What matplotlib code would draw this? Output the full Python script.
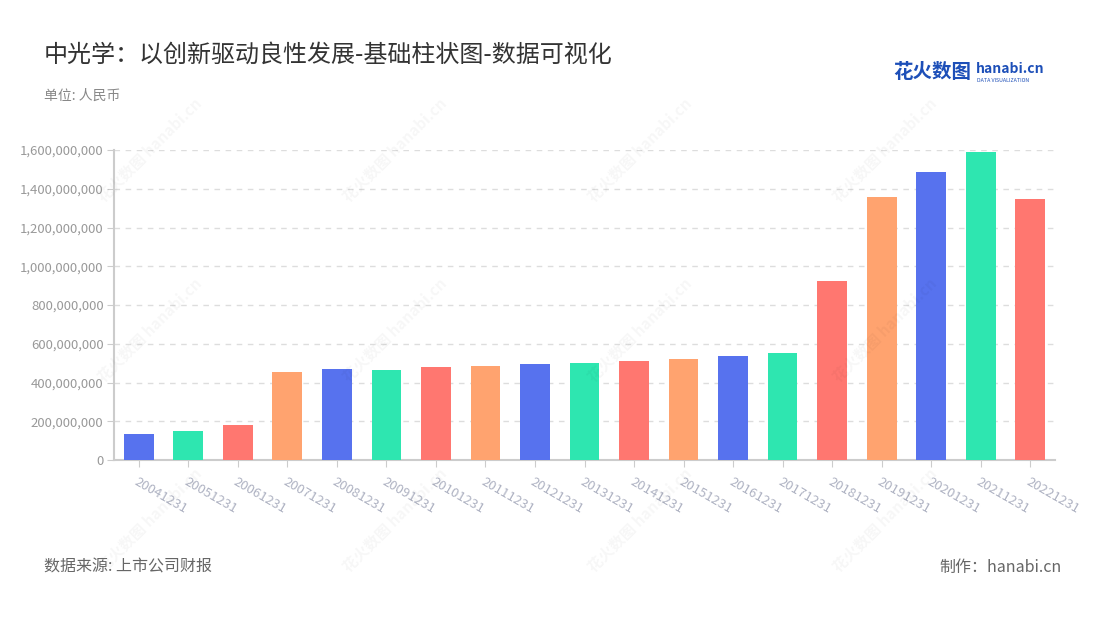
import matplotlib.pyplot as plt
from matplotlib.ticker import FuncFormatter

plt.rcParams['font.family'] = ['Noto Sans CJK SC', 'DejaVu Sans']

# data
dates = ['20041231', '20051231', '20061231', '20071231', '20081231', '20091231',
         '20101231', '20111231', '20121231', '20131231', '20141231', '20151231',
         '20161231', '20171231', '20181231', '20191231', '20201231', '20211231',
         '20221231']
values = [134e6, 151e6, 183e6, 454e6, 471e6, 464e6,
          481e6, 483e6, 494e6, 500e6, 511e6, 523e6,
          537e6, 554e6, 923e6, 1356e6, 1484e6, 1588e6,
          1346e6]
palette = ['#5772EE', '#2EE6B0', '#FF7770', '#FFA36F']

fig = plt.figure(figsize=(11, 6.2), dpi=100)
ax = fig.add_axes([114 / 1100, 1 - 460 / 620, 941 / 1100, 310 / 620])

x = list(range(len(dates)))
colors = [palette[i % 4] for i in x]
ax.bar(x, values, width=0.6, color=colors, zorder=3)

ax.set_xlim(-0.5, len(dates) - 0.5)
ax.set_ylim(0, 1.6e9)
ax.set_yticks([i * 2e8 for i in range(9)])
ax.yaxis.set_major_formatter(FuncFormatter(lambda v, p: '{:,.0f}'.format(v)))
ax.grid(axis='y', color='#dddddd', linestyle=(0, (4, 4)), linewidth=1, zorder=0)
ax.set_xticks(x)
ax.set_xticklabels(dates, rotation=-30, ha='left', va='top', rotation_mode='anchor',
                   color='#aeb2c2', fontsize=9.5)
ax.tick_params(axis='x', length=5, color='#cccccc', pad=6)
ax.tick_params(axis='y', length=5, color='#cccccc', labelcolor='#999999',
               labelsize=9.5, pad=2.5)

for s in ['top', 'right']:
    ax.spines[s].set_visible(False)
for s in ['left', 'bottom']:
    ax.spines[s].set_color('#cccccc')
    ax.spines[s].set_linewidth(1.5)

# watermark
for wx in [150, 395, 640, 885]:
    for wy in [150, 330, 520]:
        fig.text(wx / 1100, 1 - wy / 620, '花火数图 hanabi.cn', rotation=45,
                 fontsize=11, color='#000000', alpha=0.035, ha='center', va='center',
                 fontweight='bold')

fig.text(44 / 1100, 1 - 55 / 620, '中光学：以创新驱动良性发展-基础柱状图-数据可视化',
         fontsize=17.3, color='#333333', va='center')
fig.text(44 / 1100, 1 - 96 / 620, '单位: 人民币', fontsize=10, color='#888888', va='center')
fig.text(44 / 1100, 1 - 567 / 620, '数据来源: 上市公司财报', fontsize=11.5, color='#666666',
         va='center')
fig.text(1062 / 1100, 1 - 567 / 620, '制作：hanabi.cn', fontsize=11.5, color='#666666',
         va='center', ha='right')

# logo
fig.text(893 / 1100, 1 - 72 / 620, '花火数图', fontsize=14, color='#1d4fb8',
         va='center', fontweight='bold')
fig.text(976 / 1100, 1 - 69 / 620, 'hanabi.cn', fontsize=10, color='#1d4fb8',
         va='center', fontweight='bold')
fig.text(977 / 1100, 1 - 80 / 620, 'DATA VISUALIZATION', fontsize=3.8, color='#1d4fb8',
         va='center')

fig.savefig('out.png', dpi=100)
